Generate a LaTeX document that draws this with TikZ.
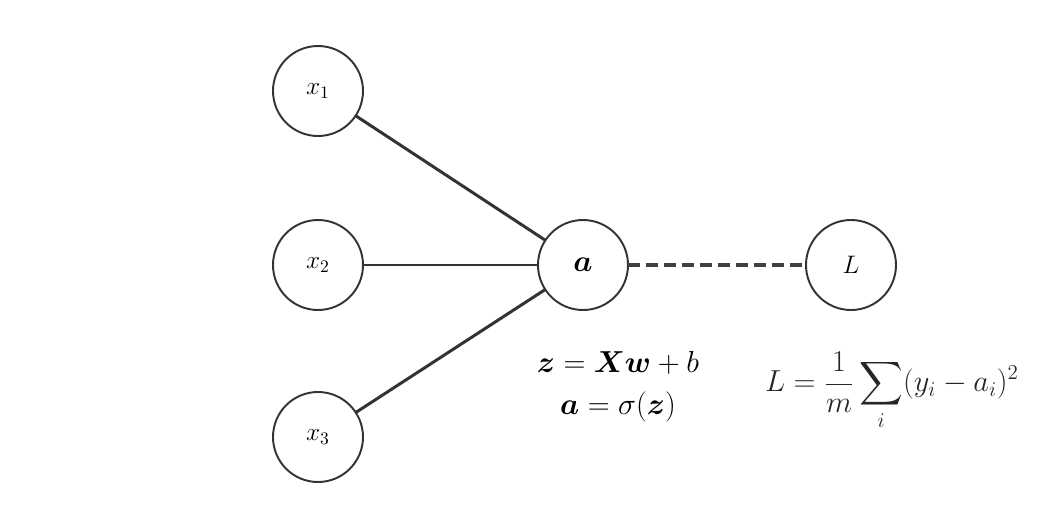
\documentclass[tikz,border=0pt]{standalone}
\usepackage{amsmath,bm}

\begin{document}
\begin{tikzpicture}[
    neuron/.style={circle,draw=black!80,line width=1.1pt,minimum size=1.8cm,inner sep=0pt,outer sep=0pt},
    link/.style={draw=black!80,line width=1.7pt},
    lossline/.style={draw=black!75,line width=2.3pt,dash pattern=on 0.24cm off 0.12cm}]
\useasboundingbox (0,0) rectangle (20.8,-10.5);

\node (a) at (11.66,-5.30) [neuron] {\fontsize{17}{20}\selectfont$\bm{a}$};
\node (L) at (17.02,-5.30) [neuron] {\fontsize{14}{17}\selectfont$L$};

\foreach \i/\y in {1/-1.82,2/-5.30,3/-8.74} {%
    \node (x\i) at (6.36,\y) [neuron] {\fontsize{14}{17}\selectfont$x_{\i}$};
    \path[link]
        (x\i) edge (a);
}

\path[lossline]
    (a) edge (L);

\node (forward) at (12.36,-7.74) [align=center,font=\fontsize{17}{24}\selectfont]
    {$\bm{z} = \bm{X}\bm{w} + b$\\ $\bm{a} = \sigma(\bm{z})$};
\node (loss) at (17.84,-7.82) [text=black!85,font=\fontsize{17}{20}\selectfont]
    {$\displaystyle L = \frac{1}{m}\sum_{i}(y_i - a_i)^2$};
\end{tikzpicture}
\end{document}
